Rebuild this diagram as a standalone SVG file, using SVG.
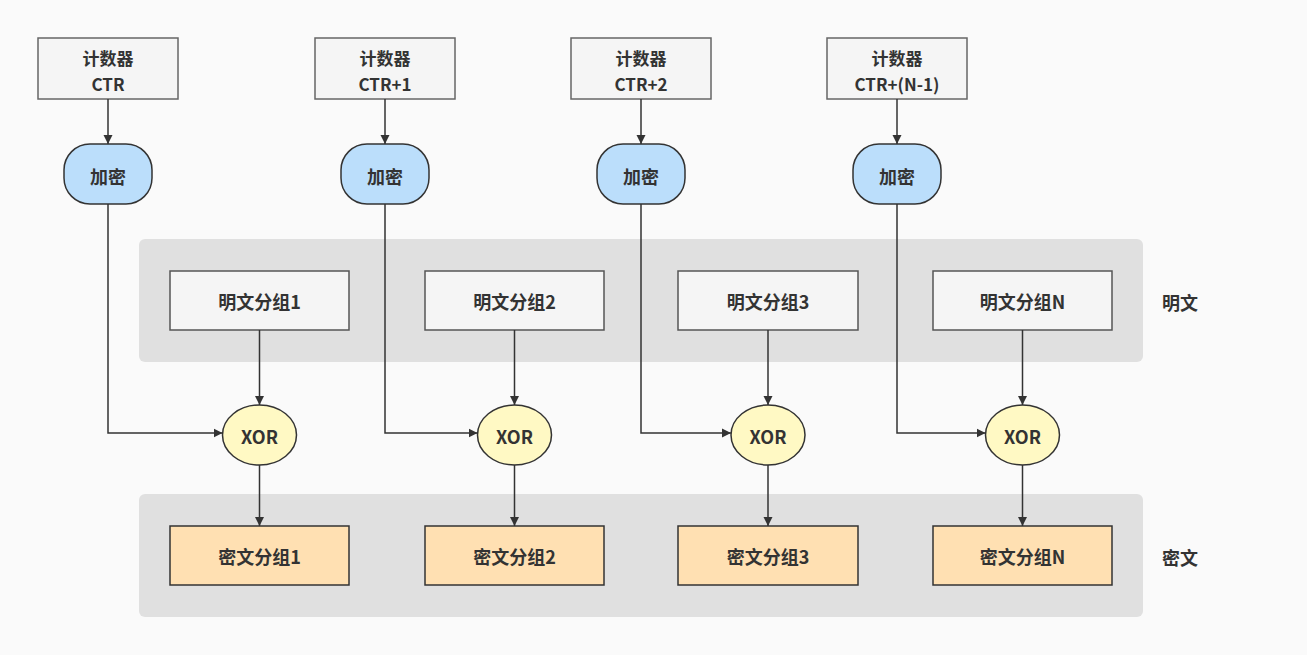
<svg xmlns="http://www.w3.org/2000/svg" width="1307" height="655" viewBox="0 0 1307 655">
<style>
text{font-family:"Noto Sans CJK SC","Noto Sans",sans-serif;font-weight:bold;font-size:18px;fill:#333;text-anchor:middle;dominant-baseline:central}
.two{font-size:17px}
.ctr{fill:#f5f5f5;stroke:#666;stroke-width:1.5}
.enc{fill:#bbdefb;stroke:#333;stroke-width:1.5}
.plain{fill:#f5f5f5;stroke:#555;stroke-width:1.5}
.xor{fill:#fff9c4;stroke:#333;stroke-width:1.5}
.ciph{fill:#ffe0b2;stroke:#333;stroke-width:1.5}
.band{fill:#e0e0e0}
#edges path{fill:none;stroke:#333;stroke-width:1.5;marker-end:url(#a)}
</style>
<defs><marker id="a" viewBox="0 0 10 10" refX="10" refY="5" markerWidth="9" markerHeight="10" markerUnits="userSpaceOnUse" orient="auto"><path d="M0,0 L10,5 L0,10 z" fill="#333"/></marker></defs>
<rect width="1307" height="655" fill="#fafafa"/>
<rect class="band" x="139" y="239" width="1004" height="123" rx="6"/>
<rect class="band" x="139" y="494" width="1004" height="123" rx="6"/>
<text x="1180" y="302">明文</text>
<text x="1180" y="557">密文</text>
<g id="ctr1"><rect class="ctr" x="38" y="38" width="140" height="61"/><text class="two" x="108" y="57">计数器</text><text class="two" x="108" y="83">CTR</text></g>
<g id="ctr2"><rect class="ctr" x="315" y="38" width="140" height="61"/><text class="two" x="385" y="57">计数器</text><text class="two" x="385" y="83">CTR+1</text></g>
<g id="ctr3"><rect class="ctr" x="571" y="38" width="140" height="61"/><text class="two" x="641" y="57">计数器</text><text class="two" x="641" y="83">CTR+2</text></g>
<g id="ctr4"><rect class="ctr" x="827" y="38" width="140" height="61"/><text class="two" x="897" y="57">计数器</text><text class="two" x="897" y="83">CTR+(N-1)</text></g>
<g id="enc1"><rect class="enc" x="64" y="144" width="88" height="60" rx="26"/><text x="108" y="176">加密</text></g>
<g id="enc2"><rect class="enc" x="341" y="144" width="88" height="60" rx="26"/><text x="385" y="176">加密</text></g>
<g id="enc3"><rect class="enc" x="597" y="144" width="88" height="60" rx="26"/><text x="641" y="176">加密</text></g>
<g id="enc4"><rect class="enc" x="853" y="144" width="88" height="60" rx="26"/><text x="897" y="176">加密</text></g>
<g id="p1"><rect class="plain" x="170" y="271" width="179" height="59"/><text x="259.5" y="301">明文分组1</text></g>
<g id="p2"><rect class="plain" x="425" y="271" width="179" height="59"/><text x="514.5" y="301">明文分组2</text></g>
<g id="p3"><rect class="plain" x="678" y="271" width="180" height="59"/><text x="768" y="301">明文分组3</text></g>
<g id="p4"><rect class="plain" x="933" y="271" width="179" height="59"/><text x="1022.5" y="301">明文分组N</text></g>
<g id="x1"><ellipse class="xor" cx="259.5" cy="435" rx="37" ry="30"/><text x="259.5" y="436">XOR</text></g>
<g id="x2"><ellipse class="xor" cx="514.5" cy="435" rx="37" ry="30"/><text x="514.5" y="436">XOR</text></g>
<g id="x3"><ellipse class="xor" cx="768" cy="435" rx="37" ry="30"/><text x="768" y="436">XOR</text></g>
<g id="x4"><ellipse class="xor" cx="1022.5" cy="435" rx="37" ry="30"/><text x="1022.5" y="436">XOR</text></g>
<g id="c1"><rect class="ciph" x="170" y="526" width="179" height="59"/><text x="259.5" y="556">密文分组1</text></g>
<g id="c2"><rect class="ciph" x="425" y="526" width="179" height="59"/><text x="514.5" y="556">密文分组2</text></g>
<g id="c3"><rect class="ciph" x="678" y="526" width="180" height="59"/><text x="768" y="556">密文分组3</text></g>
<g id="c4"><rect class="ciph" x="933" y="526" width="179" height="59"/><text x="1022.5" y="556">密文分组N</text></g>
<g id="edges">
<path d="M108,99 V144"/><path d="M385,99 V144"/><path d="M641,99 V144"/><path d="M897,99 V144"/>
<path d="M108,204 V433 H222.5"/><path d="M385,204 V433 H477.5"/><path d="M641,204 V433 H731"/><path d="M897,204 V433 H985.5"/>
<path d="M259.5,330 V405"/><path d="M514.5,330 V405"/><path d="M768,330 V405"/><path d="M1022.5,330 V405"/>
<path d="M259.5,465 V526"/><path d="M514.5,465 V526"/><path d="M768,465 V526"/><path d="M1022.5,465 V526"/>
</g>
</svg>
